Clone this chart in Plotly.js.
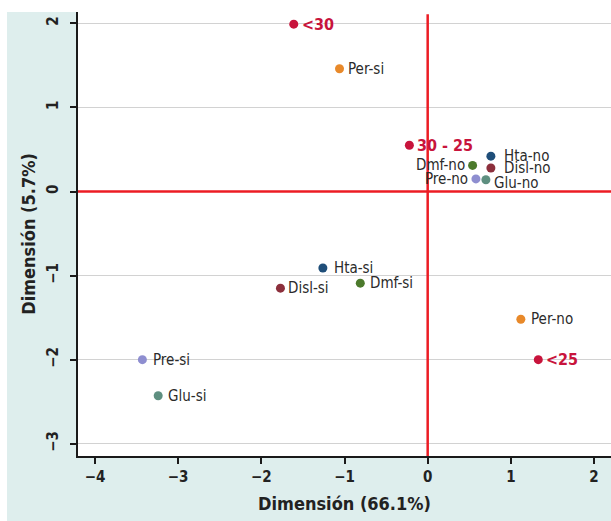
<!DOCTYPE html>
<html>
<head>
<meta charset="utf-8">
<script src="https://cdn.plot.ly/plotly-3.0.1.min.js"></script>
<style>html,body{margin:0;padding:0;background:#fff;}#chart{width:611px;height:521px;}</style>
</head>
<body>
<div id="chart"></div>
<script>
// Variable categories
var varLabels = ["Per-si","Hta-no","Dmf-no","Disl-no","Pre-no","Glu-no","Hta-si","Disl-si","Dmf-si","Pre-si","Glu-si","Per-no"];
var varX = [-1.06, 0.76, 0.54, 0.76, 0.58, 0.70, -1.26, -1.77, -0.81, -3.43, -3.24, 1.12];
var varY = [1.46, 0.42, 0.31, 0.28, 0.15, 0.14, -0.91, -1.15, -1.09, -2.00, -2.43, -1.52];
var varColors = ["#e8892a","#1f4e79","#4c7a2c","#8c2f3c","#8e8ed0","#5e8f80","#1f4e79","#8c2f3c","#4c7a2c","#8e8ed0","#5e8f80","#e8892a"];
var varSide = ["right","right","left","right","left","right","right","right","right","right","right","right"];
// Age groups
var grpLabels = ["<30","30 - 25","<25"];
var grpX = [-1.61, -0.22, 1.33];
var grpY = [1.99, 0.55, -2.00];

var fontFam = "'DejaVu Sans Condensed','Liberation Sans Narrow',Arial,sans-serif";
var labelNudgeY = {"Glu-no": -3};
var labelGap = {"Hta-no": 13, "Disl-no": 13, "Hta-si": 11, "Dmf-si": 10, "Pre-si": 11, "Glu-si": 10, "Per-no": 10};

var traces = [
  {
    type: "scatter", mode: "markers",
    x: varX, y: varY, text: varLabels,
    marker: {size: 9, color: varColors, line: {width: 0}},
    cliponaxis: false, hoverinfo: "text"
  },
  {
    type: "scatter", mode: "markers",
    x: grpX, y: grpY, text: grpLabels,
    marker: {size: 9, color: "#c8143c", line: {width: 0}},
    cliponaxis: false, hoverinfo: "text"
  }
];

var annotations = [];
varLabels.forEach(function(t, i) {
  var gap = labelGap[t] || 8;
  annotations.push({
    x: varX[i], y: varY[i], xref: "x", yref: "y", text: t, showarrow: false,
    xanchor: varSide[i] === "right" ? "left" : "right", yanchor: "middle",
    xshift: varSide[i] === "right" ? gap - 2 : -(gap - 2),
    yshift: labelNudgeY[t] || 0,
    font: {family: fontFam, size: 15, color: "#2b2b2b"}
  });
});
grpLabels.forEach(function(t, i) {
  annotations.push({
    x: grpX[i], y: grpY[i], xref: "x", yref: "y", text: t, showarrow: false,
    xanchor: "left", yanchor: "middle", xshift: 6,
    font: {family: fontFam, size: 16, color: "#c8143c", weight: "bold"}
  });
});

var layout = {
  width: 611, height: 521,
  margin: {l: 78, r: 0, t: 12, b: 65},
  paper_bgcolor: "#ffffff",
  plot_bgcolor: "#ffffff",
  showlegend: false,
  font: {family: fontFam, color: "#222"},
  annotations: annotations,
  xaxis: {
    range: [-4.204, 2.204],
    tickvals: [-4,-3,-2,-1,0,1,2],
    showgrid: false, zeroline: false,
    showline: true, linecolor: "#1a1a1a", linewidth: 2,
    ticks: "outside", ticklen: 6, tickwidth: 2, tickcolor: "#1a1a1a",
    tickfont: {family: fontFam, size: 15, color: "#222", weight: "bold"},
    title: {text: "Dimensión (66.1%)", font: {family: fontFam, size: 18, color: "#222", weight: "bold"}, standoff: 12}
  },
  yaxis: {
    range: [-3.146, 2.135],
    tickvals: [-3,-2,-1,0,1,2],
    showgrid: true, gridcolor: "#d2d2d2", gridwidth: 1.5,
    zeroline: false,
    showline: true, linecolor: "#1a1a1a", linewidth: 2,
    ticks: "outside", ticklen: 6, tickwidth: 2, tickcolor: "#1a1a1a",
    tickangle: -90,
    ticklabelstandoff: 6,
    tickfont: {family: fontFam, size: 15, color: "#222", weight: "bold"},
    title: {text: "Dimensión (5.7%)", font: {family: fontFam, size: 18, color: "#222", weight: "bold"}, standoff: 4}
  },
  shapes: [
    {type: "rect", xref: "paper", yref: "paper", x0: -0.1332, x1: 0, y0: 0, y1: 1, fillcolor: "#deeeed", line: {width: 0}, layer: "below"},
    {type: "rect", xref: "paper", yref: "paper", x0: -0.1332, x1: 1, y0: -0.1464, y1: 0, fillcolor: "#deeeed", line: {width: 0}, layer: "below"},
    {type: "line", xref: "paper", yref: "y", x0: 0, x1: 1, y0: 0, y1: 0, line: {color: "#ec1c24", width: 2.5}, layer: "above"},
    {type: "line", xref: "x", yref: "paper", x0: 0, x1: 0, y0: 0, y1: 0.995, line: {color: "#ec1c24", width: 2.5}, layer: "above"}
  ]
};

Plotly.newPlot("chart", traces, layout, {displayModeBar: false, staticPlot: true});
</script>
</body>
</html>
